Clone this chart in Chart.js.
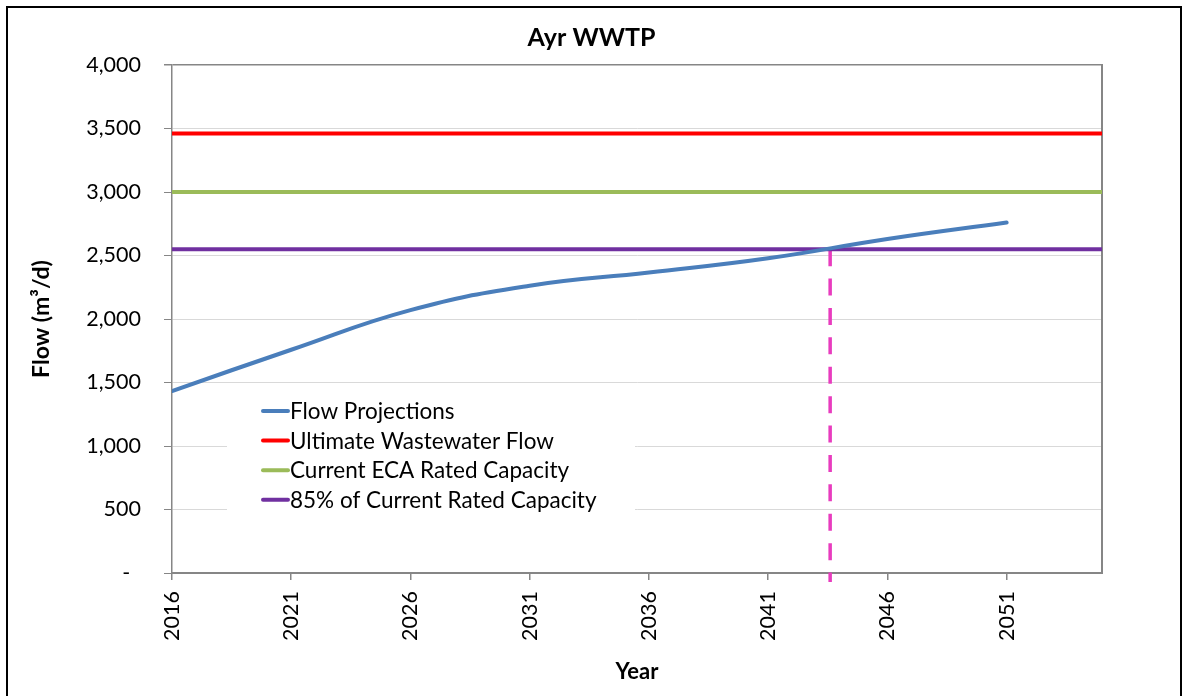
<!DOCTYPE html>
<html>
<head>
<meta charset="utf-8">
<title>Ayr WWTP</title>
<script src="https://cdn.jsdelivr.net/npm/chart.js@4.4.1/dist/chart.umd.min.js"></script>
<style>
  html, body { margin: 0; padding: 0; background: #fff; overflow: hidden; }
  #frame { position: absolute; left: 6px; top: 6px; width: 1172px; height: 720px;
           border: 2.5px solid #000; border-bottom: none; }
  #c { position: absolute; left: 0; top: 0; }
</style>
</head>
<body>
<div id="frame"></div>
<canvas id="c" width="1183" height="696"></canvas>
<script>
// Projected average daily flow (m³/d) at five-year steps
const years = [2016, 2021, 2026, 2031, 2036, 2041, 2046, 2051];
const flowProjections = [1433, 1758, 2070, 2262, 2366, 2478, 2630, 2760];

// Capacity reference levels (m³/d)
const ultimateFlow = 3460;
const ratedCapacity = 3000;
const capacity85 = 2550;

// Year where projected flow reaches 85% of rated capacity
const crossingYear = 2043.6;

// Axis extents
const yearStart = 2016;
const yearEnd = 2055;
const flowTicks = [0, 500, 1000, 1500, 2000, 2500, 3000, 3500, 4000];

const seriesLabels = [
  'Flow Projections',
  'Ultimate Wastewater Flow',
  'Current ECA Rated Capacity',
  '85% of Current Rated Capacity'
];
const seriesColors = ['#4A7EBB', '#FF0000', '#9BBB59', '#7030A0'];
const markerColor = '#E83CBE';

const FONT = 'Lato, "Open Sans", sans-serif';
const AXIS_GREY = '#868686';
const GRID_GREY = '#D9D9D9';

Chart.defaults.font.family = FONT;
Chart.defaults.color = '#000';

const level = v => [{ x: yearStart, y: v }, { x: yearEnd, y: v }];

// Legend drawn inside the plot, on a white panel
const insetLegend = {
  id: 'insetLegend',
  afterDatasetsDraw(chart) {
    const ctx = chart.ctx;
    const box = { left: 227, top: 392, width: 408, height: 131 };
    const rowStart = 411, rowGap = 29.6;
    ctx.save();
    ctx.fillStyle = '#fff';
    ctx.fillRect(box.left, box.top, box.width, box.height);
    ctx.font = '22.5px ' + FONT;
    ctx.textBaseline = 'middle';
    ctx.textAlign = 'left';
    chart.data.datasets.forEach((ds, i) => {
      if (!ds.inLegend) return;
      const yRow = rowStart + i * rowGap;
      ctx.strokeStyle = ds.borderColor;
      ctx.lineWidth = 4;
      ctx.lineCap = 'round';
      ctx.beginPath();
      ctx.moveTo(263, yRow);
      ctx.lineTo(288, yRow);
      ctx.stroke();
      ctx.fillStyle = '#000';
      ctx.fillText(ds.label, 290, yRow + 1);
    });
    ctx.restore();
  }
};

new Chart(document.getElementById('c'), {
  type: 'line',
  data: {
    datasets: [
      {
        label: seriesLabels[0], inLegend: true,
        data: years.map((yr, i) => ({ x: yr, y: flowProjections[i] })),
        borderColor: seriesColors[0], borderWidth: 4, tension: 0.45,
        pointRadius: 0, fill: false, borderCapStyle: 'round'
      },
      {
        label: seriesLabels[1], inLegend: true, data: level(ultimateFlow),
        borderColor: seriesColors[1], borderWidth: 4, pointRadius: 0, fill: false
      },
      {
        label: seriesLabels[2], inLegend: true, data: level(ratedCapacity),
        borderColor: seriesColors[2], borderWidth: 4, pointRadius: 0, fill: false
      },
      {
        label: seriesLabels[3], inLegend: true, data: level(capacity85),
        borderColor: seriesColors[3], borderWidth: 4, pointRadius: 0, fill: false
      },
      {
        label: 'capacity reached', inLegend: false,
        data: [{ x: crossingYear, y: capacity85 }, { x: crossingYear, y: -70 }],
        borderColor: markerColor, borderWidth: 3.5, borderDash: [17, 12.4],
        pointRadius: 0, fill: false, clip: false
      }
    ]
  },
  options: {
    responsive: false,
    animation: false,
    devicePixelRatio: 1,
    layout: { padding: 0 },
    plugins: {
      legend: { display: false },
      tooltip: { enabled: false },
      title: {
        display: true,
        text: 'Ayr WWTP',
        color: '#000',
        font: { size: 25, weight: 'bold', family: FONT },
        padding: { top: 23, bottom: 12 }
      }
    },
    scales: {
      x: {
        type: 'linear',
        position: 'bottom',
        min: yearStart,
        max: yearEnd,
        afterBuildTicks: s => { s.ticks = years.map(v => ({ value: v })); },
        afterFit: s => { s.height = 123; },
        ticks: {
          autoSkip: false,
          minRotation: 90,
          maxRotation: 90,
          padding: 11,
          color: '#000',
          font: { size: 21.5 },
          callback: v => String(v)
        },
        grid: { drawOnChartArea: false, drawTicks: true, tickLength: 7, color: AXIS_GREY, lineWidth: 1.5 },
        border: { display: true, color: AXIS_GREY, width: 2 },
        title: {
          display: true, text: 'Year', color: '#000',
          font: { size: 22, weight: 'bold' },
          padding: { top: 0, bottom: 11 }
        }
      },
      y: {
        type: 'linear',
        position: 'left',
        min: 0,
        max: 4000,
        afterBuildTicks: s => { s.ticks = flowTicks.map(v => ({ value: v })); },
        afterFit: s => { s.width = 172; },
        ticks: {
          padding: 23,
          color: '#000',
          font: { size: 21.5 },
          callback: v => v === 0 ? '-\u2002' : v.toLocaleString('en-US')
        },
        grid: {
          drawOnChartArea: true,
          drawTicks: true,
          tickLength: 8,
          tickColor: AXIS_GREY,
          color: ctx => (ctx.tick && ctx.tick.value === 4000) ? AXIS_GREY : GRID_GREY,
          lineWidth: ctx => (ctx.tick && ctx.tick.value === 4000) ? 1.5 : 1
        },
        border: { display: true, color: AXIS_GREY, width: 1.5 },
        title: {
          display: true, text: 'Flow (m³/d)', color: '#000',
          font: { size: 23, weight: 'bold' },
          padding: { top: 28, bottom: 0 }
        }
      },
      yRight: {
        type: 'linear',
        position: 'right',
        display: true,
        afterFit: s => { s.width = 81; },
        ticks: { display: false },
        grid: { drawOnChartArea: false, drawTicks: false },
        border: { display: true, color: AXIS_GREY, width: 2 }
      }
    }
  },
  plugins: [insetLegend]
});
</script>
</body>
</html>
